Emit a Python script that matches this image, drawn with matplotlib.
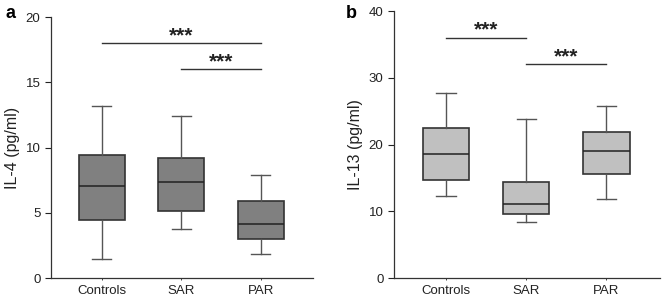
import matplotlib
matplotlib.use("Agg")
import matplotlib.pyplot as plt

plt.rcParams['font.family'] = ['Liberation Sans', 'DejaVu Sans']

groups = ['Controls', 'SAR', 'PAR']

# IL-4 (pg/ml): whisker low, Q1, median, Q3, whisker high
il4_low = [1.43, 3.78, 1.84]
il4_q1 = [4.44, 5.16, 2.99]
il4_med = [7.02, 7.33, 4.11]
il4_q3 = [9.40, 9.22, 5.87]
il4_high = [13.18, 12.41, 7.87]

# IL-13 (pg/ml)
il13_low = [12.3, 8.45, 11.9]
il13_q1 = [14.65, 9.65, 15.65]
il13_med = [18.6, 11.1, 19.0]
il13_q3 = [22.5, 14.4, 21.85]
il13_high = [27.65, 23.8, 25.7]

# significance brackets: (from group, to group, height)
il4_sig = [(0, 2, 18.0), (1, 2, 16.0)]
il13_sig = [(0, 1, 36.0), (1, 2, 32.0)]


def make_stats(low, q1, med, q3, high):
    return [dict(whislo=a, q1=b, med=c, q3=d, whishi=e, fliers=[])
            for a, b, c, d, e in zip(low, q1, med, q3, high)]


def draw_panel(ax, stats, fill, ymax, yticks, ylabel, sig, sig_off):
    ax.bxp(stats, positions=[1, 2, 3], widths=0.58, patch_artist=True,
           showfliers=False,
           boxprops=dict(facecolor=fill, edgecolor='#333333', linewidth=1.2),
           medianprops=dict(color='#222222', linewidth=1.1),
           whiskerprops=dict(color='#555555', linewidth=1.0),
           capprops=dict(color='#555555', linewidth=1.0),
           capwidths=0.24)
    for i, j, h in sig:
        ax.plot([i + 1, j + 1], [h, h], color='#333333', lw=1.0)
        ax.text((i + j) / 2 + 1, h + sig_off, '***', ha='center', va='center',
                fontsize=15, fontweight='bold', color='#222222')
    ax.set_ylim(0, ymax)
    ax.set_yticks(yticks)
    ax.set_xticks([1, 2, 3])
    ax.set_xticklabels(groups)
    ax.spines['top'].set_visible(False)
    ax.spines['right'].set_visible(False)
    for s in ['left', 'bottom']:
        ax.spines[s].set_color('#333333')
        ax.spines[s].set_linewidth(0.9)
    ax.tick_params(axis='y', length=4, width=0.8, labelsize=9.5, colors='#222222')
    ax.tick_params(axis='x', length=1.5, width=0.6, labelsize=9.5, colors='#222222')
    ax.set_ylabel(ylabel, fontsize=11.5, color='#222222', labelpad=4)


fig = plt.figure(figsize=(6.62, 3.0), dpi=100)

ax1 = fig.add_axes([0.077, 0.0733, 0.396, 0.87])
draw_panel(ax1, make_stats(il4_low, il4_q1, il4_med, il4_q3, il4_high),
           '#808080', 20, [0, 5, 10, 15, 20], 'IL-4 (pg/ml)', il4_sig, 0.55)
ax1.set_xlim(0.36, 3.66)

ax2 = fig.add_axes([0.595, 0.0733, 0.402, 0.89])
draw_panel(ax2, make_stats(il13_low, il13_q1, il13_med, il13_q3, il13_high),
           '#c0c0c0', 40, [0, 10, 20, 30, 40], 'IL-13 (pg/ml)', il13_sig, 1.1)
ax2.set_xlim(0.35, 3.67)

fig.text(0.008, 0.955, 'a', fontsize=13, fontweight='bold', va='center')
fig.text(0.522, 0.955, 'b', fontsize=13, fontweight='bold', va='center')

fig.savefig('out.png', dpi=100)
